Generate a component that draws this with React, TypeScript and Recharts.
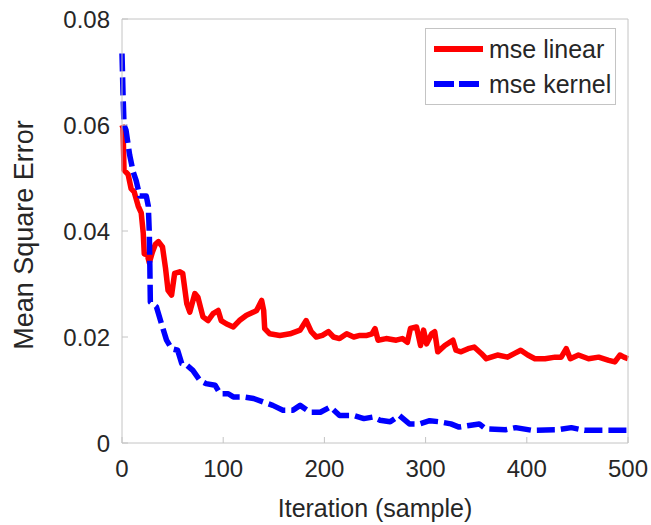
import { LineChart, Line, XAxis, YAxis, Legend } from 'recharts'

// values
const linearX = [
  0, 1, 2, 6, 9, 12, 16, 19, 21, 22, 25, 27, 30, 33, 36, 40, 43, 45.5, 49, 52, 57, 60, 64, 67, 72, 75, 80, 85, 90,
  95, 98, 103, 110, 116, 123, 130, 133, 138, 140, 141, 146, 156, 166, 176, 182, 187, 192, 198, 204, 209, 215, 222,
  229, 235, 242, 247, 250, 253, 261, 271, 277, 282, 285, 291, 295, 298, 301, 306, 309, 312, 319, 327, 330, 335, 342,
  348, 355, 360, 371, 381, 388, 394, 401, 408, 418, 428, 434, 439, 443, 451, 461, 471, 481, 487, 492, 496, 500,
]
const linearY = [
  0.06, 0.0595, 0.0515, 0.0507, 0.048, 0.0474, 0.0447, 0.0434, 0.0396, 0.0357, 0.0355, 0.034, 0.036, 0.0375, 0.038,
  0.037, 0.033, 0.0288, 0.0279, 0.032, 0.0323, 0.032, 0.0263, 0.0247, 0.0282, 0.0275, 0.0238, 0.0231, 0.0244, 0.025,
  0.0231, 0.0225, 0.0219, 0.0231, 0.0241, 0.0247, 0.025, 0.0269, 0.025, 0.0216, 0.0206, 0.0203, 0.0206, 0.0213,
  0.0231, 0.021, 0.02, 0.0203, 0.021, 0.02, 0.0197, 0.0206, 0.02, 0.0203, 0.0203, 0.0206, 0.0216, 0.0194, 0.0197,
  0.0194, 0.0197, 0.019, 0.0216, 0.0219, 0.0184, 0.0213, 0.0187, 0.0206, 0.021, 0.0172, 0.0184, 0.0194, 0.0175,
  0.0172, 0.0178, 0.0181, 0.0169, 0.0159, 0.0166, 0.0162, 0.0169, 0.0175, 0.0166, 0.0159, 0.0159, 0.0162, 0.0162,
  0.0178, 0.0159, 0.0166, 0.0159, 0.0162, 0.0156, 0.0153, 0.0166, 0.0162, 0.0159,
]

const kernelX = [
  0, 1, 2, 4, 7.5, 11, 14, 17.5, 24, 26, 27, 27.5, 28, 34, 39, 44, 49, 55, 59, 64, 70, 77, 83, 92, 97, 105, 110, 120,
  130, 140, 149, 159, 169, 176, 186, 196, 206, 215, 229, 239, 248, 255, 265, 274, 284, 294, 304, 314, 325, 333, 343,
  353, 359, 379, 389, 405, 431, 444, 457, 477, 500,
]
const kernelY = [
  0.0735, 0.066, 0.06, 0.059, 0.0544, 0.0512, 0.0495, 0.0466, 0.0466, 0.0447, 0.0395, 0.0338, 0.0266, 0.0257, 0.0225,
  0.0194, 0.0178, 0.0175, 0.015, 0.0147, 0.0137, 0.0118, 0.0112, 0.0109, 0.0093, 0.0093, 0.0087, 0.0087, 0.0084,
  0.0077, 0.0071, 0.0062, 0.0062, 0.0071, 0.0058, 0.0058, 0.0068, 0.0052, 0.0052, 0.0046, 0.0049, 0.0043, 0.004,
  0.0052, 0.0036, 0.0036, 0.0042, 0.004, 0.0036, 0.003, 0.0033, 0.0036, 0.0027, 0.0025, 0.0029, 0.0024, 0.0025,
  0.0029, 0.0024, 0.0024, 0.0024,
]

const xTicks = [0, 100, 200, 300, 400, 500]
const yTicks = [0, 0.02, 0.04, 0.06, 0.08]

const linearData = linearX.map((x, i) => ({ x, y: linearY[i] }))
const kernelData = kernelX.map((x, i) => ({ x, y: kernelY[i] }))

const FONT = '"Liberation Sans", Arial, Helvetica, sans-serif'
const TEXT = '#262626'
const BOX = '#c4c4c4'

function YLabel({ viewBox }: any) {
  const cy = viewBox.y + viewBox.height / 2 + 4
  return (
    <text
      x={33}
      y={cy}
      transform={`rotate(-90, 33, ${cy})`}
      textAnchor="middle"
      fontSize={27}
      fontFamily={FONT}
      fill={TEXT}
    >
      Mean Square Error
    </text>
  )
}

function ChartLegend() {
  const rows = [
    { name: 'mse linear', color: '#ff0000', dash: undefined },
    { name: 'mse kernel', color: '#0000ff', dash: '20 5' },
  ]
  return (
    <div
      style={{
        width: 189,
        height: 75,
        border: `1px solid ${BOX}`,
        background: '#fff',
        fontFamily: FONT,
        fontSize: 25,
        color: TEXT,
        position: 'relative',
      }}
    >
      {rows.map((r, i) => (
        <div key={r.name} style={{ position: 'absolute', left: 8, top: 4 + i * 35, height: 32, display: 'flex', alignItems: 'center' }}>
          <svg width={50} height={10} style={{ display: 'block' }}>
            <line x1={0} y1={5} x2={49} y2={5} stroke={r.color} strokeWidth={6} strokeDasharray={r.dash} />
          </svg>
          <span style={{ marginLeft: 5, lineHeight: '32px' }}>{r.name}</span>
        </div>
      ))}
    </div>
  )
}

export default function App() {
  return (
    <div style={{ position: 'absolute', left: 0, top: 0, width: 651, height: 525, background: '#fff' }}>
      <LineChart width={651} height={525} margin={{ top: 18, right: 22, left: 0, bottom: 0 }}>
        <XAxis
          xAxisId="top"
          orientation="top"
          type="number"
          domain={[0, 500]}
          ticks={xTicks}
          tick={false}
          tickSize={-6}
          height={1}
          stroke={BOX}
        />
        <YAxis
          yAxisId="right"
          orientation="right"
          type="number"
          domain={[0, 0.08]}
          ticks={yTicks}
          tick={false}
          tickSize={-6}
          width={1}
          stroke={BOX}
        />
        <XAxis
          dataKey="x"
          type="number"
          domain={[0, 500]}
          ticks={xTicks}
          tickSize={-6}
          tickMargin={23}
          height={82}
          stroke={BOX}
          tick={{ fill: TEXT, fontSize: 24, fontFamily: FONT }}
          label={{ value: 'Iteration (sample)', position: 'insideBottom', offset: 8, fill: TEXT, fontSize: 25, fontFamily: FONT }}
        />
        <YAxis
          dataKey="y"
          type="number"
          domain={[0, 0.08]}
          ticks={yTicks}
          tickSize={-6}
          tickMargin={18}
          width={122}
          stroke={BOX}
          tick={{ fill: TEXT, fontSize: 24, fontFamily: FONT }}
          tickFormatter={(v: number) => String(v)}
          label={{ content: YLabel }}
        />
        <Legend
          layout="horizontal"
          verticalAlign="middle"
          align="center"
          content={() => <ChartLegend />}
          wrapperStyle={{ position: 'absolute', left: 425, top: 28, width: 191, height: 77 }}
        />
        <Line
          data={linearData}
          dataKey="y"
          type="linear"
          stroke="#ff0000"
          strokeWidth={5.5}
          strokeLinejoin="round"
          dot={false}
          activeDot={false}
          isAnimationActive={false}
        />
        <Line
          data={kernelData}
          dataKey="y"
          type="linear"
          stroke="#0000ff"
          strokeWidth={5.5}
          strokeDasharray="18 6"
          strokeLinejoin="round"
          dot={false}
          activeDot={false}
          isAnimationActive={false}
        />
      </LineChart>
    </div>
  )
}
